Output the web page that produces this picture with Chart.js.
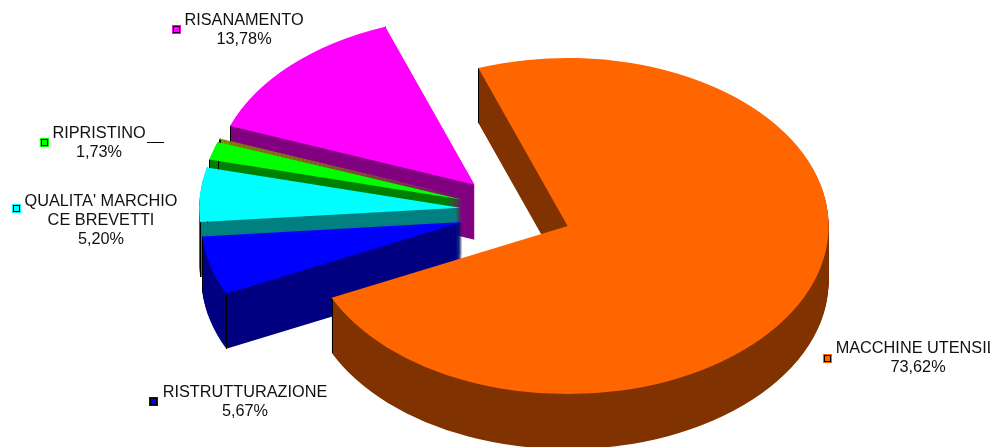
<!DOCTYPE html>
<html>
<head>
<meta charset="utf-8">
<style>
  html, body { margin: 0; padding: 0; background: #fff; overflow: hidden; }
  canvas { display: block; }
</style>
<script src="https://cdn.jsdelivr.net/npm/chart.js@4/dist/chart.umd.js"></script>
</head>
<body>
<canvas id="torta" width="990" height="447"></canvas>
<script>
// valori (la fetta senza nome e' il filo oliva tra verde e magenta)
const categories = ['MACCHINE UTENSILI', 'RISTRUTTURAZIONE', "QUALITA' MARCHIO\nCE BREVETTI", 'RIPRISTINO', '', 'RISANAMENTO'];
const values = [73.62, 5.67, 5.20, 1.73, 0.12, 13.78];
const topColors = ['#FF6600', '#0000FF', '#00FFFF', '#00FF00', '#808000', '#FF00FF'];
const sideColors = ['#803300', '#000080', '#008080', '#008000', '#808000', '#800080'];
const explode = [45, 66, 66, 66, 66, 73];
const nudgeY = [4, 0, 0, 1, 1, 7];

// posizione delle etichette: centro del testo, linea di base, quadratino
const labelPos = [
    { x: 918, y: 353, mx: 827, my: 358 },
    { x: 245, y: 397, mx: 153, my: 401 },
    { x: 101, y: 206, mx: 16, my: 208 },
    { x: 99, y: 138, mx: 44, my: 142 },
    null,
    { x: 244, y: 25, mx: 176, my: 29 }
];

const squash = 0.644;
const depth = 55;
const drawOrder = [5, 4, 3, 2, 1, 0]; // dal fondo verso il davanti

const torta3d = {
    id: 'torta3d',
    beforeDatasetsDraw(chart) {
        const ctx = chart.ctx;
        const arcs = chart.getDatasetMeta(0).data;

        drawOrder.forEach(function (i) {
            const arc = arcs[i];
            const base = arc.options;
            const mid = (arc.startAngle + arc.endAngle) / 2;
            const dx = Math.cos(mid) * explode[i];
            const dy = Math.sin(mid) * explode[i] * squash + nudgeY[i];

            function drawLayer(color, down) {
                arc.options = Object.assign({}, base, { backgroundColor: color, borderColor: color, borderWidth: 0 });
                ctx.save();
                ctx.translate(dx, dy + down + arc.y * (1 - squash));
                ctx.scale(1, squash);
                arc.draw(ctx);
                ctx.restore();
            }

            // parete laterale
            for (let d = depth; d > 0; d--) {
                drawLayer(sideColors[i], d);
            }

            // spigoli neri della parete
            ctx.save();
            ctx.strokeStyle = '#000';
            ctx.lineWidth = 1;
            [arc.startAngle, arc.endAngle].forEach(function (a) {
                const px = Math.round(arc.x + dx + Math.cos(a) * arc.outerRadius) + 0.5;
                const py = arc.y + dy + Math.sin(a) * arc.outerRadius * squash;
                ctx.beginPath();
                ctx.moveTo(px, py);
                ctx.lineTo(px, py + depth);
                ctx.stroke();
            });
            ctx.restore();

            drawLayer(topColors[i], 0);
            arc.options = base;
        });
        return false;
    },
    afterDraw(chart) {
        const ctx = chart.ctx;
        ctx.save();
        ctx.font = '16.3px "Liberation Sans"';
        ctx.textAlign = 'center';
        ctx.fillStyle = '#111';
        categories.forEach(function (name, i) {
            const pos = labelPos[i];
            if (!pos) return;
            const lines = name.split('\n');
            lines.push(values[i].toFixed(2).replace('.', ',') + '%');
            lines.forEach(function (line, n) {
                ctx.fillText(line, pos.x, pos.y + n * 19);
            });
            // quadratino della legenda
            ctx.fillStyle = topColors[i];
            ctx.fillRect(pos.mx - 4, pos.my - 4, 9, 9);
            ctx.strokeStyle = '#000';
            ctx.lineWidth = 1;
            ctx.strokeRect(pos.mx - 2.5, pos.my - 2.5, 6, 6);
            ctx.fillStyle = '#111';
        });
        // linea guida di RIPRISTINO
        ctx.strokeStyle = '#000';
        ctx.beginPath();
        ctx.moveTo(147, 142.5);
        ctx.lineTo(164, 142.5);
        ctx.stroke();
        ctx.restore();
    }
};

new Chart(document.getElementById('torta').getContext('2d'), {
    type: 'pie',
    plugins: [torta3d],
    data: {
        labels: categories,
        datasets: [{
            data: values,
            backgroundColor: topColors,
            borderWidth: 0
        }]
    },
    options: {
        responsive: false,
        animation: false,
        rotation: -20,
        radius: 261,
        layout: { padding: { left: 62, bottom: 25 } },
        plugins: {
            legend: { display: false },
            tooltip: { enabled: false }
        }
    }
});
</script>
</body>
</html>
